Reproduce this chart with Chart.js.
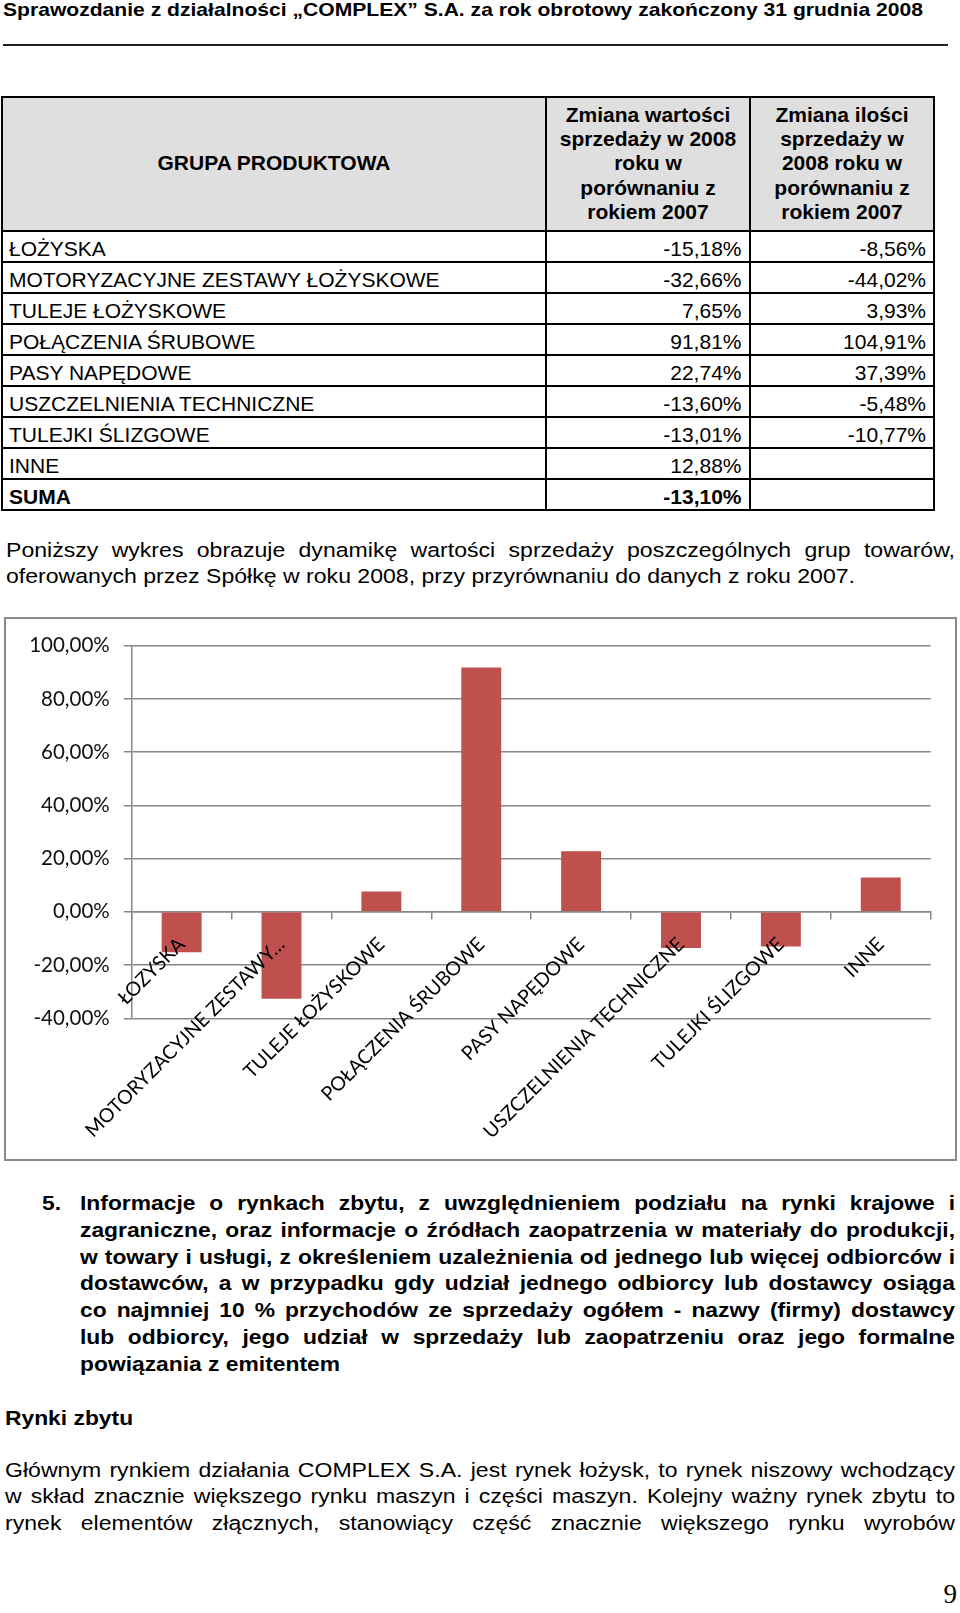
<!DOCTYPE html>
<html>
<head>
<meta charset="utf-8">
<script src="https://cdn.jsdelivr.net/npm/chart.js@4.4.1/dist/chart.umd.min.js"></script>
<style>
  html, body { margin: 0; padding: 0; background: #fff; }
  body { width: 960px; height: 1613px; position: relative; overflow: hidden;
         font-family: 'Liberation Sans', Arial, sans-serif; color: #000; }
  .t { position: absolute; white-space: nowrap; line-height: 1; transform-origin: 0 0; }
  .r { position: absolute; background: #000; }
  #box { position: absolute; left: 4px; top: 617px; width: 949px; height: 540px; border: 2px solid #8a8a8a; }
  #chart { display: block; }
</style>
</head>
<body>
<div id="box"><canvas id="chart" width="949" height="540"></canvas></div>
<script>
// table / chart data
const categories = ['ŁOŻYSKA', 'MOTORYZACYJNE ZESTAWY ŁOŻYSKOWE', 'TULEJE ŁOŻYSKOWE', 'POŁĄCZENIA ŚRUBOWE',
  'PASY NAPĘDOWE', 'USZCZELNIENIA TECHNICZNE', 'TULEJKI ŚLIZGOWE', 'INNE'];
const valueChange = [-15.18, -32.66, 7.65, 91.81, 22.74, -13.60, -13.01, 12.88];
const quantityChange = [-8.56, -44.02, 3.93, 104.91, 37.39, -5.48, -10.77, null];
const totalValueChange = -13.10;
// labels as printed under the chart
const chartLabels = ['ŁOZYSKA', 'MOTORYZACYJNE ZESTAWY…', 'TULEJE ŁOŻYSKOWE', 'POŁĄCZENIA ŚRUBOWE',
  'PASY NAPĘDOWE', 'USZCZELNIENIA TECHNICZNE', 'TULEJKI ŚLIZGOWE', 'INNE'];

const pct = v => v.toFixed(2).replace('.', ',') + '%';

const mctx = document.createElement('canvas').getContext('2d');
function textW(text, size, bold) {
  mctx.font = (bold ? 'bold ' : '') + size + 'px "Liberation Sans"';
  return mctx.measureText(text).width;
}

// place a line of text by its baseline
function put(text, x, base, size, opt = {}) {
  const el = document.createElement('div');
  el.className = 't';
  el.textContent = text;
  el.style.fontSize = size + 'px';
  if (opt.bold) el.style.fontWeight = 'bold';
  if (opt.family) el.style.fontFamily = opt.family;
  document.body.appendChild(el);
  const nat = el.getBoundingClientRect().width;
  let left = x;
  if (opt.align === 'right') left = x - nat;
  if (opt.align === 'center') left = x - nat / 2;
  el.style.left = left + 'px';
  el.style.top = (base - 0.8465 * size) + 'px';
  if (opt.w) {
    let s = opt.s || opt.w / nat;
    if (opt.justify) {
      if (nat * s < opt.w - 1) {
        el.style.whiteSpace = 'normal';
        el.style.width = (opt.w / s) + 'px';
        el.style.textAlign = 'justify';
        el.style.textAlignLast = 'justify';
      } else {
        s = opt.w / nat;
      }
    }
    el.style.transform = 'scaleX(' + s + ')';
  } else if (opt.s) {
    el.style.transform = 'scaleX(' + opt.s + ')';
  }
  return el;
}

function rule(x, y, w, h, color) {
  const el = document.createElement('div');
  el.className = 'r';
  el.style.left = x + 'px'; el.style.top = y + 'px';
  el.style.width = w + 'px'; el.style.height = h + 'px';
  if (color) el.style.background = color;
  document.body.appendChild(el);
}

// page header
put('Sprawozdanie z działalności „COMPLEX” S.A. za rok obrotowy zakończony 31 grudnia 2008', 3, 16.5, 18.6, { bold: true, w: 920 });
rule(3, 44, 945, 2, '#222');

// table
const colX = [2, 546, 750, 934];
const headTop = 97, bodyTop = 230.7, rowH = 31.03;
rule(colX[0], headTop, colX[3] - colX[0], bodyTop - headTop, '#dfdfdf');
put('GRUPA PRODUKTOWA', (colX[0] + colX[1]) / 2, 169.7, 21, { bold: true, align: 'center' });
const head2 = ['Zmiana wartości', 'sprzedaży w 2008', 'roku w', 'porównaniu z', 'rokiem 2007'];
const head3 = ['Zmiana ilości', 'sprzedaży w', '2008 roku w', 'porównaniu z', 'rokiem 2007'];
head2.forEach((s, i) => put(s, (colX[1] + colX[2]) / 2, 121.5 + i * 24.3, 21, { bold: true, align: 'center' }));
head3.forEach((s, i) => put(s, (colX[2] + colX[3]) / 2, 121.5 + i * 24.3, 21, { bold: true, align: 'center' }));

categories.forEach((c, i) => {
  const base = bodyTop + i * rowH + 25;
  put(c, 9, base, 21);
  put(pct(valueChange[i]), 741.5, base, 21, { align: 'right' });
  if (quantityChange[i] !== null) put(pct(quantityChange[i]), 926, base, 21, { align: 'right' });
});
{
  const base = bodyTop + categories.length * rowH + 25;
  put('SUMA', 9, base, 21, { bold: true });
  put(pct(totalValueChange), 741.5, base, 21, { bold: true, align: 'right' });
}
const tableBottom = bodyTop + (categories.length + 1) * rowH;
rule(colX[0] - 1, headTop - 1, colX[3] - colX[0] + 2, 2);
for (let i = 0; i <= categories.length + 1; i++) rule(colX[0] - 1, bodyTop + i * rowH - 1, colX[3] - colX[0] + 2, 2);
colX.forEach(x => rule(x - 1, headTop - 1, 2, tableBottom - headTop + 2));

// paragraph above chart
const sReg = 849 / textW('oferowanych przez Spółkę w roku 2008, przy przyrównaniu do danych z roku 2007.', 20.5, false);
put('Poniższy wykres obrazuje dynamikę wartości sprzedaży poszczególnych grup towarów,', 6, 557, 20.5, { w: 949, s: sReg, justify: true });
put('oferowanych przez Spółkę w roku 2008, przy przyrównaniu do danych z roku 2007.', 6, 583, 20.5, { s: sReg });

// section 5
const sec5 = [
  'Informacje o rynkach zbytu, z uwzględnieniem podziału na rynki krajowe i',
  'zagraniczne, oraz informacje o źródłach zaopatrzenia w materiały do produkcji,',
  'w towary i usługi, z określeniem uzależnienia od jednego lub więcej odbiorców i',
  'dostawców, a w przypadku gdy udział jednego odbiorcy lub dostawcy osiąga',
  'co najmniej 10 % przychodów ze sprzedaży ogółem - nazwy (firmy) dostawcy',
  'lub odbiorcy, jego udział w sprzedaży lub zaopatrzeniu oraz jego formalne',
  'powiązania z emitentem'
];
const sBold = 260 / textW(sec5[6], 20, true);
put('5.', 41.7, 1210, 20, { bold: true, s: sBold });
sec5.forEach((s, i) => {
  const last = i === sec5.length - 1;
  put(s, 80, 1210 + i * 26.75, 20, last ? { bold: true, s: sBold } : { bold: true, w: 875, s: sBold, justify: true });
});

put('Rynki zbytu', 5, 1425, 20, { bold: true, s: sBold });

const para = [
  'Głównym rynkiem działania COMPLEX S.A. jest rynek łożysk, to rynek niszowy wchodzący',
  'w skład znacznie większego rynku maszyn i części maszyn. Kolejny ważny rynek zbytu to',
  'rynek elementów złącznych, stanowiący część znacznie większego rynku wyrobów'
];
para.forEach((s, i) => put(s, 5, 1477 + i * 26.5, 20.5, { w: 950, s: sReg, justify: true }));

put('9', 957, 1604, 27, { family: "'Liberation Serif', 'DejaVu Serif', serif", align: 'right' });

// chart
Chart.defaults.font.family = 'Lato';
const gridColor = '#878787';
new Chart(document.getElementById('chart'), {
  type: 'bar',
  data: {
    labels: chartLabels,
    datasets: [{
      data: valueChange,
      backgroundColor: '#C0504D',
      borderWidth: 0,
      barPercentage: 0.4,
      categoryPercentage: 1
    }]
  },
  options: {
    responsive: false,
    animation: false,
    devicePixelRatio: 1,
    layout: { padding: { left: 0, top: 26.7, right: 24.3, bottom: 140.7 } },
    plugins: { legend: { display: false }, tooltip: { enabled: false } },
    scales: {
      x: {
        position: { y: 0 },
        afterFit: scale => { scale.height = 0; },
        grid: { drawOnChartArea: false, drawTicks: true, tickLength: 7, color: gridColor, lineWidth: 1.5, offset: true },
        border: { color: gridColor, width: 1.5 },
        // z: 1 -> labels are drawn on top of the bars, as in the original
        ticks: { z: 1, autoSkip: false, minRotation: 45, maxRotation: 45, padding: 14, color: '#000', font: { size: 19.5 } }
      },
      y: {
        min: -40,
        max: 100,
        afterFit: scale => { scale.width = 125.7; },
        grid: { color: gridColor, lineWidth: 1.5, tickLength: 8, drawTicks: true },
        border: { color: gridColor, width: 1.5 },
        ticks: { stepSize: 20, padding: 14, color: '#111', font: { size: 20.5 }, callback: v => pct(v) }
      }
    }
  }
});
</script>
</body>
</html>
